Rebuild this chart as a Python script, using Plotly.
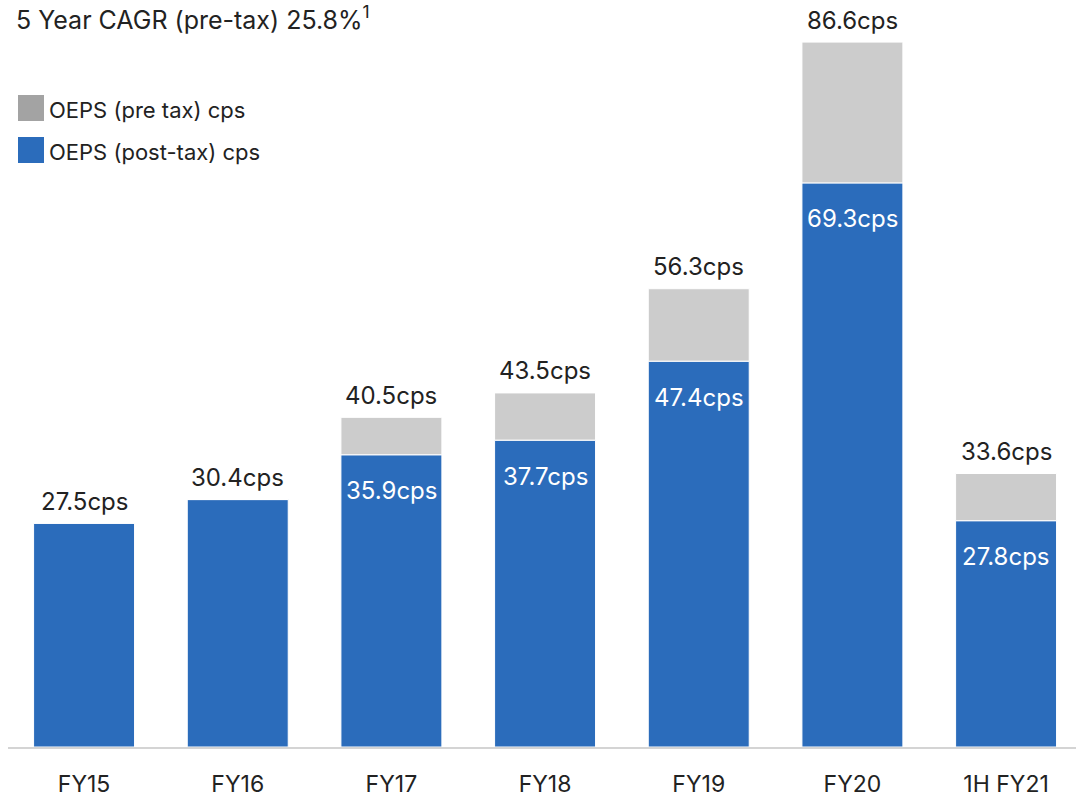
import plotly.graph_objects as go

# Operating earnings per share, cents per share
periods = ["FY15", "FY16", "FY17", "FY18", "FY19", "FY20", "1H FY21"]
post_tax = [27.5, 30.4, 35.9, 37.7, 47.4, 69.3, 27.8]
pre_tax = [None, None, 40.5, 43.5, 56.3, 86.6, 33.6]

BLUE = "#2b6cbb"
GREY_BAR = "#cccccc"
GREY_KEY = "#a3a3a3"
TEXT = "#222222"
FONT = "Inter, Liberation Sans, Arial, sans-serif"

W, H = 1076, 800
ML, MB = 8, 53
PW, PH = W - ML, H - MB


def px_x(px):
    return (px - ML) / PW


def px_y(py):
    return (PH - py) / PH


# Pre-tax segment sits on top of the post-tax bar
pre_extra = [(p - q) if p is not None else 0 for p, q in zip(pre_tax, post_tax)]
totals = [p if p is not None else q for p, q in zip(pre_tax, post_tax)]

fig = go.Figure()
fig.add_trace(go.Bar(
    x=periods, y=post_tax, marker=dict(color=BLUE, line=dict(color="white", width=1)),
    width=0.657, hoverinfo="skip", showlegend=False,
))
fig.add_trace(go.Bar(
    x=periods, y=pre_extra, base=post_tax,
    marker=dict(color=GREY_BAR, line=dict(color="white", width=1)),
    width=0.657, hoverinfo="skip", showlegend=False,
))

annotations = []
for cat, tot in zip(periods, totals):
    annotations.append(dict(
        x=cat, y=tot, xref="x", yref="y", text=f"{tot:.1f}cps", showarrow=False,
        yanchor="middle", yshift=22, font=dict(family=FONT, size=24, color=TEXT),
    ))
for cat, q, p in zip(periods, post_tax, pre_tax):
    if p is None:
        continue
    annotations.append(dict(
        x=cat, y=q, xref="x", yref="y", text=f"{q:.1f}cps", showarrow=False,
        yanchor="middle", yshift=-36, font=dict(family=FONT, size=24, color="white"),
    ))

# Headline with footnote marker, pinned to the top-left corner
annotations.append(dict(
    x=px_x(15), y=1.0, xref="paper", yref="paper", xanchor="left",
    yanchor="top", showarrow=False, borderpad=0,
    text="5 Year CAGR (pre-tax) 25.8%<sup style='font-size:10px'>1</sup>",
    font=dict(family=FONT, size=25, color=TEXT),
))

legend_items = [("OEPS (pre tax) cps", GREY_KEY, 108), ("OEPS (post-tax) cps", BLUE, 150)]
shapes = []
for label, col, yc in legend_items:
    shapes.append(dict(
        type="rect", xref="paper", yref="paper",
        x0=px_x(18), x1=px_x(44), y0=px_y(yc + 13), y1=px_y(yc - 13),
        fillcolor=col, line=dict(width=0),
    ))
    annotations.append(dict(
        x=px_x(47), y=px_y(yc + 2), xref="paper", yref="paper", xanchor="left",
        yanchor="middle", showarrow=False, text=label,
        font=dict(family=FONT, size=22, color=TEXT),
    ))

fig.update_layout(
    width=W, height=H,
    margin=dict(l=ML, r=0, t=0, b=MB),
    barmode="overlay",
    plot_bgcolor="white", paper_bgcolor="white",
    annotations=annotations, shapes=shapes,
    xaxis=dict(
        range=[-0.495, 6.455], showgrid=False, zeroline=False,
        showline=True, linecolor="#d4d4d4", linewidth=2,
        ticks="", tickfont=dict(family=FONT, size=23, color=TEXT),
        ticklabelstandoff=15,
    ),
    yaxis=dict(range=[0, 91.77], visible=False),
)

fig.write_html("out.html")
